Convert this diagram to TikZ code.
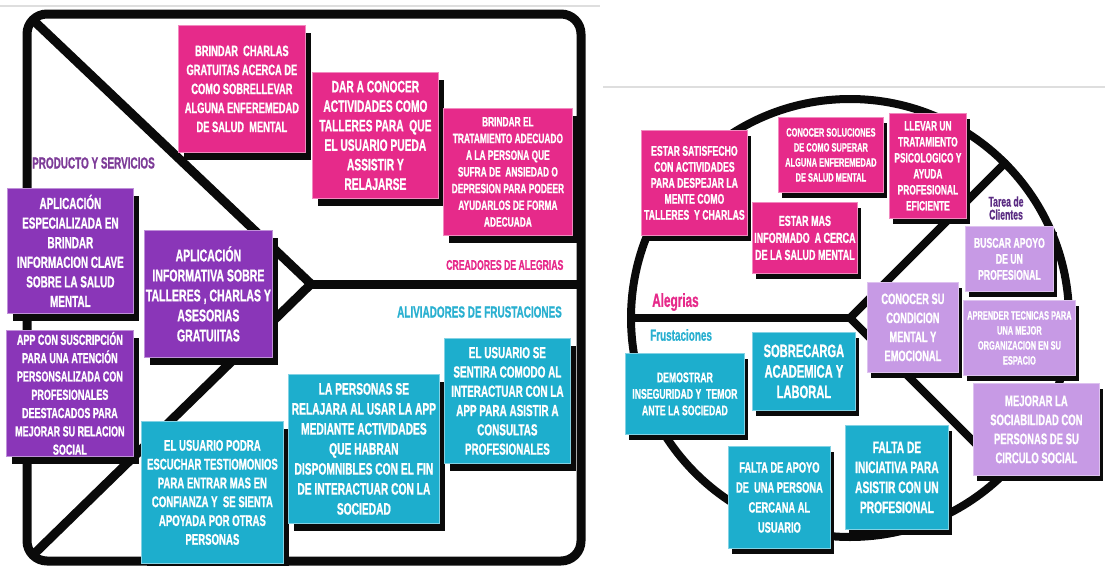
\documentclass[tikz,border=0pt]{standalone}
\usepackage{fontspec}
\usetikzlibrary{shadows}
\newfontfamily\cnd{Liberation Sans}[FakeStretch=0.62, FakeBold=0.9]
\definecolor{pinkc}{HTML}{E62A8A}
\definecolor{purpc}{HTML}{8A36B8}
\definecolor{cyanc}{HTML}{1DAECD}
\definecolor{lavc}{HTML}{C79AE5}
\definecolor{framec}{HTML}{0A0A0A}
\definecolor{labpurp}{HTML}{7D3C98}
\definecolor{labcyan}{HTML}{2AB0D0}
\definecolor{tareac}{HTML}{5B2C83}
\tikzset{
  fs/.style 2 args={font=\cnd\bfseries\fontsize{#1}{#2}\selectfont},
  card/.style={anchor=north west, inner sep=0pt, align=center, text=white, line width=0.8pt},
  shadL/.style={drop shadow={shadow xshift=6pt, shadow yshift=-8pt, opacity=1, fill=framec}},
  shadR/.style={drop shadow={shadow xshift=4pt, shadow yshift=-6pt, opacity=1, fill=framec}},
  pinkcard/.style={card, fill=pinkc, draw=pinkc!55!white},
  purpcard/.style={card, fill=purpc, draw=purpc!55!white},
  cyancard/.style={card, fill=cyanc, draw=cyanc!55!white},
  lavcard/.style={card, fill=lavc, draw=lavc!60!white},
  frame/.style={draw=framec, line width=9pt, line join=round, line cap=round},
  rframe/.style={draw=framec, line width=8pt, line join=round, line cap=round},
  lab/.style={anchor=west, inner sep=0pt}
}
\begin{document}
\begin{tikzpicture}[x=1pt, y=-1pt]
\useasboundingbox (0,0) rectangle (1105,565);
% thin gray separator lines
\coordinate (g1) at (0,6); \coordinate (g2) at (600,6);
\coordinate (g3) at (603,87); \coordinate (g4) at (1105,87);
\draw[black!13, line width=1.5pt] (g1) -- (g2);
\draw[black!13, line width=1.5pt] (g3) -- (g4);

% ---------- left canvas ----------
\draw[frame, rounded corners=20pt] (27,14) rectangle (581,561);
\coordinate (tl) at (33,20);
\coordinate (bl) at (33,555);
\coordinate (tip) at (311,284);
\coordinate (rm) at (581,284);
\draw[frame] (tl) -- (tip) -- (bl);
\draw[frame, line cap=butt] (tip) -- (rm);

\node[lab, fs={16}{19}, text=labpurp] (prod) at (32,163) {PRODUCTO Y SERVICIOS};
\node[lab, fs={14}{17}, text=pinkc] (crea) at (446,265) {CREADORES DE ALEGRIAS};
\node[lab, fs={16}{19}, text=labcyan] (aliv) at (397,312) {ALIVIADORES DE FRUSTACIONES};

\node[pinkcard, shadL, fs={15}{19}, minimum width=127pt, minimum height=127pt] (p1) at (178,25)
 {BRINDAR~ CHARLAS\\GRATUITAS ACERCA DE\\COMO SOBRELLEVAR\\ALGUNA ENFEREMEDAD\\DE SALUD~ MENTAL};
\node[pinkcard, shadL, fs={16.5}{19.5}, minimum width=126pt, minimum height=126pt] (p2) at (312,72)
 {DAR A CONOCER\\ACTIVIDADES COMO\\TALLERES PARA~ QUE\\EL USUARIO PUEDA\\ASSISTIR Y\\RELAJARSE};
\node[pinkcard, shadL, fs={13.5}{16.7}, minimum width=129pt, minimum height=127pt] (p3) at (443,108)
 {BRINDAR EL\\TRATAMIENTO ADECUADO\\A LA PERSONA QUE\\SUFRA DE~ ANSIEDAD O\\DEPRESION PARA PODEER\\AYUDARLOS DE FORMA\\ADECUADA};

\node[purpcard, shadL, fs={16}{19.6}, minimum width=126pt, minimum height=125pt] (u1) at (7,188)
 {APLICACIÓN\\ESPECIALIZADA EN\\BRINDAR\\INFORMACION CLAVE\\SOBRE LA SALUD\\MENTAL};
\node[purpcard, shadL, fs={17}{20}, minimum width=128pt, minimum height=127pt] (u2) at (144,230)
 {APLICACIÓN\\INFORMATIVA SOBRE\\TALLERES , CHARLAS Y\\ASESORIAS\\GRATUIITAS};
\node[purpcard, shadL, fs={14.5}{18.3}, minimum width=127pt, minimum height=126pt] (u3) at (6,330)
 {APP CON SUSCRIPCIÓN\\PARA UNA ATENCIÓN\\PERSONSALIZADA CON\\PROFESIONALES\\DEESTACADOS PARA\\MEJORAR SU RELACION\\SOCIAL};

\node[cyancard, shadL, fs={15.5}{18.8}, minimum width=142pt, minimum height=142pt] (c1) at (141,421)
 {EL USUARIO PODRA\\ESCUCHAR TESTIOMONIOS\\PARA ENTRAR MAS EN\\CONFIANZA Y~ SE SIENTA\\APOYADA POR OTRAS\\PERSONAS};
\node[cyancard, shadL, fs={16.5}{20}, minimum width=151pt, minimum height=149pt] (c2) at (288,374)
 {LA PERSONAS SE\\RELAJARA AL USAR LA APP\\MEDIANTE ACTIVIDADES\\QUE HABRAN\\DISPOMNIBLES CON EL FIN\\DE INTERACTUAR CON LA\\SOCIEDAD};
\node[cyancard, shadL, fs={16}{19.3}, minimum width=126pt, minimum height=125pt] (c3) at (444,338)
 {EL USUARIO SE\\SENTIRA COMODO AL\\INTERACTUAR CON LA\\APP PARA ASISTIR A\\CONSULTAS\\PROFESIONALES};

% ---------- right circle ----------
\coordinate (cc) at (850,318);
\coordinate (cl) at (631,318);
\coordinate (cur) at (1005,163);
\coordinate (clr) at (1005,473);
\draw[rframe] (cc) circle (219pt);
\draw[rframe] (cl) -- (cc);
\draw[rframe] (cur) -- (cc) -- (clr);

\node[lab, fs={19}{22}, text=pinkc] (aleg) at (652,302) {Alegrias};
\node[lab, fs={16}{19}, text=labcyan] (frus) at (650,335) {Frustaciones};
\node[inner sep=0pt, align=center, fs={14}{13}, text=tareac] (tarea) at (1006,208) {Tarea de\\Clientes};

\node[pinkcard, shadR, fs={14}{16}, minimum width=106pt, minimum height=105pt] (rp1) at (641,130)
 {ESTAR SATISFECHO\\CON ACTIVIDADES\\PARA DESPEJAR LA\\MENTE COMO\\TALLERES~ Y CHARLAS};
\node[pinkcard, shadR, fs={12}{15}, minimum width=105pt, minimum height=75pt] (rp2) at (778,117)
 {CONOCER SOLUCIONES\\DE COMO SUPERAR\\ALGUNA ENFEREMEDAD\\DE SALUD MENTAL};
\node[pinkcard, shadR, fs={14.5}{17}, minimum width=105pt, minimum height=71pt] (rp3) at (752,202)
 {ESTAR MAS\\INFORMADO~ A CERCA\\DE LA SALUD MENTAL};
\node[pinkcard, shadR, fs={13.5}{16}, minimum width=77pt, minimum height=105pt] (rp4) at (889,113)
 {LLEVAR UN\\TRATAMIENTO\\PSICOLOGICO Y\\AYUDA\\PROFESIONAL\\EFICIENTE};

\node[lavcard, shadR, fs={14}{16}, minimum width=88pt, minimum height=65pt] (l1) at (965,226)
 {BUSCAR APOYO\\DE UN\\PROFESIONAL};
\node[lavcard, shadR, fs={15}{19}, minimum width=91pt, minimum height=90pt] (l2) at (867,282)
 {CONOCER SU\\CONDICION\\MENTAL Y\\EMOCIONAL};
\node[lavcard, shadR, fs={12}{15}, minimum width=112pt, minimum height=75pt] (l3) at (963,300)
 {APRENDER TECNICAS PARA\\UNA MEJOR\\ORGANIZACION EN SU\\ESPACIO};
\node[lavcard, shadR, fs={15.3}{19}, minimum width=126pt, minimum height=92pt] (l4) at (973,383)
 {MEJORAR LA\\SOCIABILIDAD CON\\PERSONAS DE SU\\CIRCULO SOCIAL};

\node[cyancard, shadR, fs={14}{16.5}, minimum width=119pt, minimum height=81pt] (k1) at (625,353)
 {DEMOSTRAR\\INSEGURIDAD Y~ TEMOR\\ANTE LA SOCIEDAD};
\node[cyancard, shadR, fs={18}{20.5}, minimum width=103pt, minimum height=78pt] (k2) at (752,332)
 {SOBRECARGA\\ACADEMICA Y\\LABORAL};
\node[cyancard, shadR, fs={15}{20}, minimum width=102pt, minimum height=102pt] (k3) at (728,446)
 {FALTA DE APOYO\\DE~ UNA PERSONA\\CERCANA AL\\USUARIO};
\node[cyancard, shadR, fs={16.5}{20}, minimum width=103pt, minimum height=104pt] (k4) at (845,425)
 {FALTA DE\\INICIATIVA PARA\\ASISTIR CON UN\\PROFESIONAL};
\end{tikzpicture}
\end{document}
